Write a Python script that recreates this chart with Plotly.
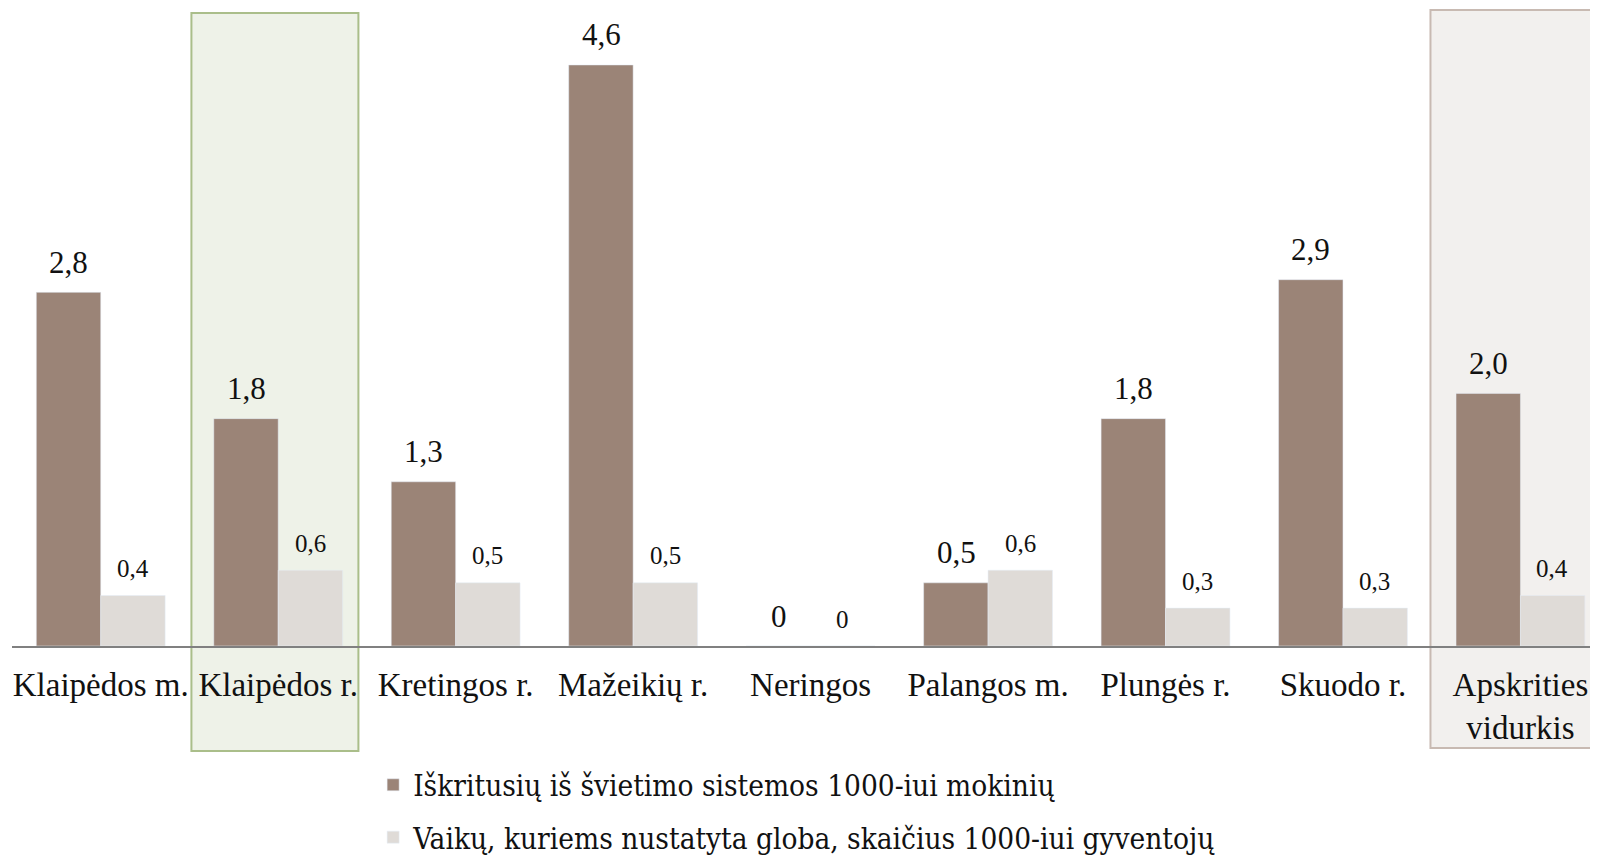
import plotly.graph_objects as go

categories = ["Klaipėdos m.", "Klaipėdos r.", "Kretingos r.", "Mažeikių r.", "Neringos",
              "Palangos m.", "Plungės r.", "Skuodo r.", "Apskrities<br>vidurkis"]
dropouts = [2.8, 1.8, 1.3, 4.6, 0, 0.5, 1.8, 2.9, 2.0]
guardianship = [0.4, 0.6, 0.5, 0.5, 0, 0.6, 0.3, 0.3, 0.4]
series_names = ["Iškritusių iš švietimo sistemos 1000-iui mokinių",
                "Vaikų, kuriems nustatyta globa, skaičius 1000-iui gyventojų"]


def fmt(v):
    return "0" if v == 0 else f"{v:.1f}".replace(".", ",")


BROWN = "#9B8477"
LIGHT = "#DFDBD7"
SERIF = "Liberation Serif, DejaVu Serif, serif"
BARGAP = 0.274
OFFSET_PX = 32  # half of one bar's width: label centred over each bar

fig = go.Figure()
fig.add_trace(go.Bar(x=categories, y=dropouts, name=series_names[0], marker_color=BROWN,
                     legendgroup="a", hoverinfo="x+y"))
fig.add_trace(go.Bar(x=categories, y=guardianship, name=series_names[1], marker_color=LIGHT,
                     legendgroup="b", hoverinfo="x+y"))

# value labels
for cat, v in zip(categories, dropouts):
    fig.add_annotation(x=cat, y=v, text=fmt(v), showarrow=False, xshift=-OFFSET_PX,
                       yanchor="middle", yshift=30, font=dict(size=31, family=SERIF, color="#111111"))
for cat, v in zip(categories, guardianship):
    fig.add_annotation(x=cat, y=v, text=fmt(v), showarrow=False, xshift=OFFSET_PX,
                       yanchor="middle", yshift=27, font=dict(size=25, family=SERIF, color="#111111"))

# highlight boxes
fig.add_shape(type="rect", xref="x", yref="paper", x0=1 - 0.489, x1=1 + 0.452, y0=-0.1646, y1=0.992,
              fillcolor="#EEF2E8", line=dict(color="#AABE8A", width=2), layer="below")
fig.add_shape(type="rect", xref="x", yref="paper", x0=8 - 0.507, x1=8 + 0.428, y0=-0.1599, y1=0.9969,
              fillcolor="#F2F0EE", line=dict(color="#C8BAB2", width=2), layer="below")

fig.update_layout(
    width=1606, height=847,
    margin=dict(l=4, r=16, t=0, b=209, autoexpand=False),
    paper_bgcolor="white", plot_bgcolor="rgba(0,0,0,0)",
    barmode="group", bargap=BARGAP, bargroupgap=0,
    showlegend=True,
    legend=dict(orientation="v", x=0.2277, xanchor="left", y=-0.1773, yanchor="top",
                traceorder="grouped", tracegroupgap=11, bgcolor="rgba(0,0,0,0)",
                font=dict(family="DejaVu Serif Condensed, Liberation Serif, serif", size=29.5,
                          color="#111111"),
                itemwidth=30),
    font=dict(family=SERIF, color="#111111"),
)
fig.update_xaxes(range=[-0.5, 8.437], showline=True, linecolor="#808080", linewidth=1.5,
                 ticks="outside", ticklen=9, tickcolor="rgba(0,0,0,0)",
                 tickfont=dict(size=33, family=SERIF, color="#111111"), showgrid=False)
fig.update_yaxes(range=[0, 5.051], visible=False, showgrid=False, zeroline=False)

fig.write_html("out.html",
               post_script="document.documentElement.style.overflow='hidden';"
                           "document.body.style.overflow='hidden';")
